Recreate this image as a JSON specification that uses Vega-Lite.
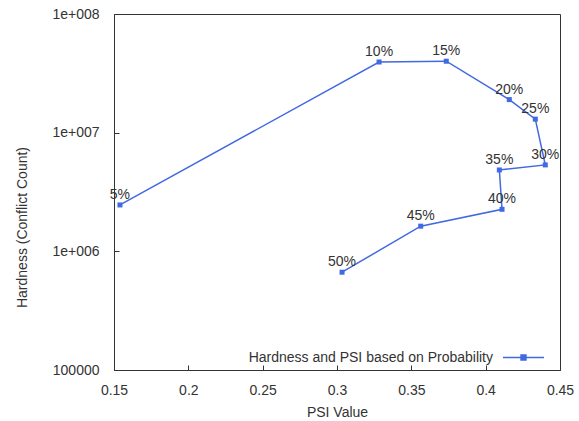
{
  "$schema": "https://vega.github.io/schema/vega-lite/v6.json",
  "width": 446,
  "height": 356,
  "autosize": "none",
  "padding": {"left": 114, "top": 14, "right": 19, "bottom": 51},
  "background": "white",
  "config": {
    "font": "Liberation Sans",
    "view": {"stroke": "#333", "strokeWidth": 1},
    "axis": {"grid": false, "domainColor": "#333", "tickColor": "#333", "labelColor": "#333", "titleColor": "#333", "labelFontSize": 14, "titleFontSize": 14, "titleFontWeight": "normal", "tickSize": -5, "labelFont": "Liberation Sans", "titleFont": "Liberation Sans"}
  },
  "data": {"values": [
    {"k": 1, "label": "5%", "psi": 0.154, "hardness": 2460000, "series": "Hardness and PSI based on Probability"},
    {"k": 2, "label": "10%", "psi": 0.3283, "hardness": 39400000, "series": "Hardness and PSI based on Probability"},
    {"k": 3, "label": "15%", "psi": 0.3735, "hardness": 40000000, "series": "Hardness and PSI based on Probability"},
    {"k": 4, "label": "20%", "psi": 0.4159, "hardness": 19000000, "series": "Hardness and PSI based on Probability"},
    {"k": 5, "label": "25%", "psi": 0.4334, "hardness": 13000000, "series": "Hardness and PSI based on Probability"},
    {"k": 6, "label": "30%", "psi": 0.4401, "hardness": 5350000, "series": "Hardness and PSI based on Probability"},
    {"k": 7, "label": "35%", "psi": 0.4092, "hardness": 4850000, "series": "Hardness and PSI based on Probability"},
    {"k": 8, "label": "40%", "psi": 0.411, "hardness": 2260000, "series": "Hardness and PSI based on Probability"},
    {"k": 9, "label": "45%", "psi": 0.3563, "hardness": 1630000, "series": "Hardness and PSI based on Probability"},
    {"k": 10, "label": "50%", "psi": 0.3034, "hardness": 667000, "series": "Hardness and PSI based on Probability"}
  ]},
  "encoding": {
    "x": {"field": "psi", "type": "quantitative", "title": "PSI Value",
      "scale": {"domain": [0.15, 0.45], "nice": false, "zero": false},
      "axis": {"values": [0.15, 0.2, 0.25, 0.3, 0.35, 0.4, 0.45], "labelExpr": "format(datum.value, '.2~f')", "labelPadding": 18, "titlePadding": 8, "labelFlush": false}},
    "y": {"field": "hardness", "type": "quantitative", "title": "Hardness (Conflict Count)",
      "scale": {"type": "log", "domain": [100000, 100000000], "nice": false},
      "axis": {"values": [100000, 1000000, 10000000, 100000000], "labelExpr": "datum.value < 500000 ? '100000' : '1e+00' + round(log(datum.value) / LN10)", "labelPadding": 20, "titleX": -92, "titleY": 213, "titleAlign": "center", "titleBaseline": "middle", "titleAngle": -90}}
  },
  "layer": [
    {
      "mark": {"type": "line", "strokeWidth": 1.5},
      "encoding": {
        "order": {"field": "k", "type": "quantitative"},
        "color": {"field": "series", "type": "nominal", "scale": {"range": ["#4169E1"]},
          "legend": {"title": null, "orient": "none", "legendX": 388, "legendY": 322, "labelFontSize": 14, "labelLimit": 400, "labelColor": "#333", "labelFont": "Liberation Sans", "symbolType": "M-1,0L1,0M-0.12,-0.12L0.12,-0.12L0.12,0.12L-0.12,0.12Z", "symbolSize": 1681, "symbolStrokeWidth": 1.5, "symbolFillColor": "#4169E1", "symbolStrokeColor": "#4169E1", "labelAlign": "right", "labelOffset": -52}}
      }
    },
    {
      "mark": {"type": "point", "filled": true, "shape": "square", "size": 25, "color": "#4169E1", "opacity": 1}
    },
    {
      "mark": {"type": "text", "baseline": "bottom", "align": "center", "dy": -3, "fontSize": 14, "color": "#333", "font": "Liberation Sans"},
      "encoding": {"text": {"field": "label"}}
    }
  ]
}
